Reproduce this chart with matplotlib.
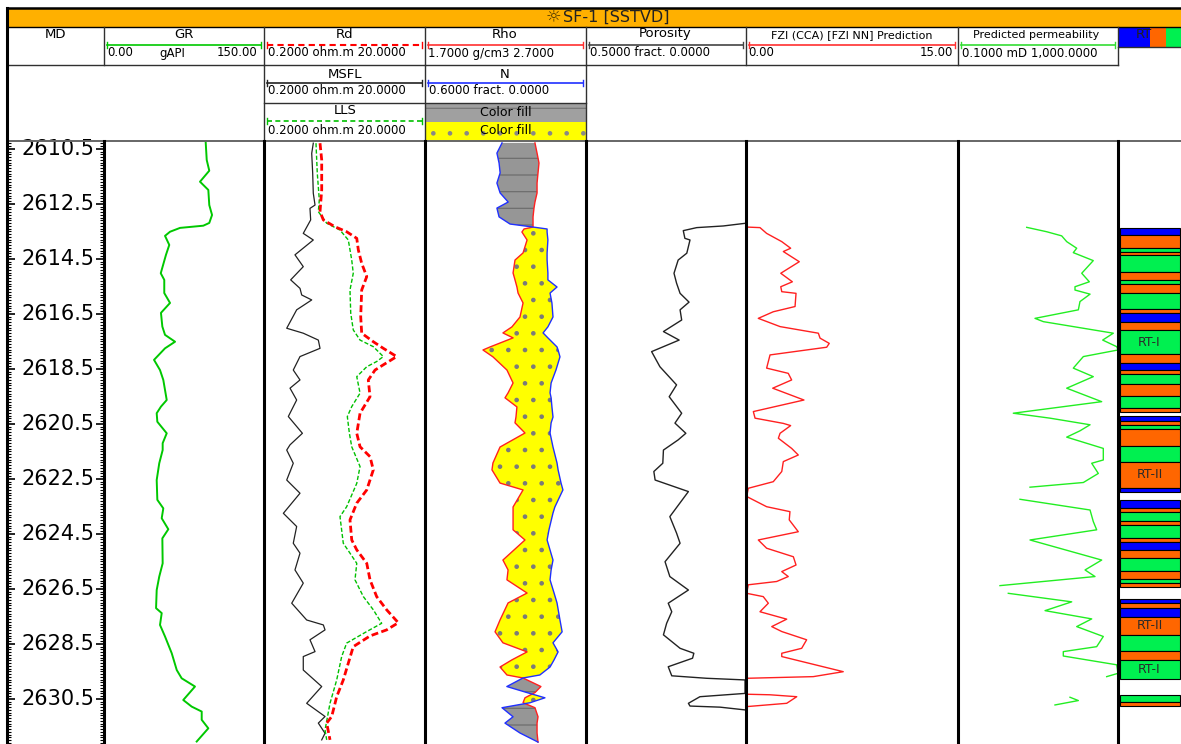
import numpy as np
import matplotlib
matplotlib.use('Agg')
import matplotlib.pyplot as plt
from matplotlib.patches import Rectangle
from matplotlib.ticker import FixedLocator, MultipleLocator

plt.rcParams['font.family'] = ['DejaVu Sans']
plt.rcParams['hatch.linewidth'] = 0.9

W, H = 1181, 744
TOP_DEPTH, BASE_DEPTH = 2610.21, 2632.14

depth_labels = [2610.5, 2612.5, 2614.5, 2616.5, 2618.5, 2620.5,
                2622.5, 2624.5, 2626.5, 2628.5, 2630.5]

# gamma ray (gAPI)
gr_depth = [2610.23, 2610.90, 2611.29, 2611.69, 2611.99, 2612.54, 2612.90, 2613.19, 2613.29, 2613.37,
            2613.51, 2613.66, 2613.99, 2614.35, 2615.02, 2615.26, 2615.74, 2616.10, 2616.46, 2616.96,
            2617.26, 2617.51, 2617.75, 2618.17, 2618.54, 2618.90, 2619.63, 2619.87, 2620.11, 2620.42,
            2620.84, 2621.20, 2621.45, 2621.93, 2622.54, 2623.26, 2623.57, 2623.93, 2624.33, 2624.66,
            2625.57, 2626.05, 2626.54, 2627.20, 2627.38, 2627.81, 2628.23, 2628.84, 2629.45, 2629.75,
            2630.05, 2630.54, 2630.78, 2630.96, 2631.26, 2631.57, 2632.05]
gr_api = [95.3, 96.3, 98.7, 90.0, 97.8, 98.7, 101.3, 98.7, 93.1, 71.3,
          61.9, 57.2, 61.2, 58.1, 53.2, 56.5, 56.5, 61.9, 53.4, 54.7,
          57.2, 66.6, 57.2, 46.9, 52.5, 55.6, 58.8, 53.4, 49.4, 50.0,
          58.8, 55.0, 55.0, 51.8, 49.4, 50.0, 55.6, 54.1, 60.3, 54.7,
          55.0, 51.8, 49.4, 48.8, 54.1, 52.5, 57.2, 63.5, 68.2, 72.8,
          85.3, 74.3, 82.2, 91.6, 91.6, 97.8, 86.9]

# deep resistivity (ohm.m)
rd_depth = [2610.29, 2610.90, 2611.99, 2612.78, 2613.08, 2613.33, 2613.51, 2613.75, 2614.17, 2614.66,
            2615.14, 2615.63, 2616.60, 2617.20, 2617.51, 2617.75, 2618.05, 2618.35, 2618.54, 2618.90,
            2619.51, 2620.11, 2620.84, 2621.33, 2621.69, 2622.17, 2622.90, 2623.38, 2623.99, 2624.72,
            2625.08, 2625.57, 2626.17, 2626.78, 2627.26, 2627.73, 2627.99, 2628.21, 2628.60, 2629.20,
            2629.81, 2630.42, 2631.14, 2631.38, 2631.99]
rd_ohmm = [0.993, 1.042, 1.042, 0.993, 1.092, 1.524, 2.128, 2.84, 2.97, 3.27,
           3.78, 3.27, 3.18, 3.27, 4.56, 6.07, 8.89, 6.07, 4.79, 3.95,
           4.15, 3.12, 2.84, 3.12, 4.15, 4.56, 3.78, 2.84, 2.34, 2.46,
           2.84, 3.78, 4.15, 5.02, 6.68, 9.31, 6.68, 4.15, 2.57, 2.23,
           1.932, 1.600, 1.387, 1.202, 1.321]

# shallow laterolog (ohm.m)
lls_depth = [2610.29, 2611.38, 2612.35, 2612.78, 2613.20, 2613.45, 2613.81, 2614.54, 2615.02, 2615.63,
             2616.47, 2617.08, 2617.45, 2617.69, 2618.05, 2618.23, 2618.42, 2618.78, 2619.38, 2619.87,
             2620.23, 2620.84, 2621.33, 2622.05, 2622.66, 2623.51, 2623.87, 2624.84, 2625.20, 2625.57,
             2626.17, 2626.78, 2627.26, 2627.75, 2628.05, 2628.47, 2628.96, 2629.81, 2630.66, 2631.63,
             2631.99]
lls_ohmm = [0.885, 0.918, 0.973, 0.946, 1.202, 1.758, 2.23, 2.46, 2.57, 2.34,
            2.39, 2.57, 3.12, 4.56, 6.07, 5.02, 3.78, 2.84, 3.12, 2.46,
            2.168, 2.30, 2.46, 3.12, 2.84, 2.128, 1.758, 1.932, 2.34, 2.84,
            2.70, 3.43, 4.56, 5.79, 3.78, 2.128, 1.845, 1.600, 1.321, 1.146,
            1.202]

# micro spherically focused log (ohm.m)
msfl_depth = [2610.29, 2610.66, 2611.38, 2612.11, 2612.54, 2612.66, 2613.08, 2613.57, 2613.81, 2614.35,
              2614.78, 2615.26, 2615.57, 2615.81, 2615.99, 2616.35, 2617.02, 2617.20, 2617.45, 2617.75,
              2618.05, 2618.54, 2618.90, 2619.20, 2619.63, 2620.23, 2620.84, 2621.26, 2621.45, 2621.93,
              2622.54, 2623.02, 2623.75, 2624.23, 2624.84, 2625.20, 2625.81, 2626.29, 2627.02, 2627.63,
              2627.81, 2627.99, 2628.35, 2628.78, 2628.96, 2629.45, 2630.05, 2630.66, 2631.14, 2631.38,
              2631.75, 2631.99]
msfl_ohmm = [0.819, 0.783, 0.805, 0.819, 0.861, 0.745, 0.760, 0.615, 0.819, 0.485,
             0.615, 0.429, 0.560, 0.588, 0.783, 0.509, 0.383, 0.615, 0.946, 0.993,
             0.560, 0.462, 0.560, 0.421, 0.509, 0.401, 0.600, 0.421, 0.383, 0.462,
             0.383, 0.560, 0.348, 0.509, 0.462, 0.560, 0.485, 0.615, 0.442, 0.678,
             1.092, 1.146, 0.745, 0.861, 0.615, 0.615, 1.042, 0.678, 1.146, 0.946,
             1.146, 1.042]

# bulk density (g/cm3) and neutron porosity (fract.) on a shared depth list
rho_depth = [2610.28, 2610.65, 2611.01, 2611.37, 2611.74, 2612.10, 2612.43, 2612.65, 2612.97, 2613.23,
             2613.34, 2613.41, 2613.52, 2613.81, 2614.28, 2614.54, 2615.01, 2615.26, 2615.52, 2615.74,
             2616.10, 2616.61, 2616.97, 2617.19, 2617.37, 2617.70, 2617.81, 2618.06, 2618.54, 2619.01,
             2619.37, 2619.55, 2619.88, 2620.25, 2620.46, 2620.83, 2621.34, 2621.92, 2622.17, 2622.65,
             2622.90, 2623.52, 2623.74, 2624.35, 2624.72, 2625.45, 2625.81, 2626.17, 2626.65, 2627.01,
             2627.63, 2628.06, 2628.46, 2628.79, 2629.08, 2629.34, 2629.63, 2629.74, 2630.05, 2630.27,
             2630.46, 2630.64, 2630.82, 2631.15, 2631.38, 2631.74, 2632.07]
rho_gcc = [2.383, 2.396, 2.408, 2.402, 2.396, 2.396, 2.383, 2.377, 2.371, 2.371,
           2.371, 2.315, 2.302, 2.334, 2.309, 2.259, 2.247, 2.259, 2.271, 2.278,
           2.309, 2.290, 2.240, 2.184, 2.247, 2.104, 2.060, 2.122, 2.209, 2.247,
           2.216, 2.197, 2.271, 2.265, 2.259, 2.321, 2.166, 2.122, 2.116, 2.166,
           2.309, 2.247, 2.247, 2.247, 2.321, 2.184, 2.216, 2.209, 2.334, 2.216,
           2.166, 2.135, 2.184, 2.334, 2.240, 2.166, 2.209, 2.309, 2.420, 2.383,
           2.321, 2.309, 2.383, 2.402, 2.396, 2.396, 2.402]
nphi = [0.313, 0.332, 0.324, 0.320, 0.332, 0.320, 0.290, 0.332, 0.324, 0.283,
        0.197, 0.145, 0.145, 0.142, 0.145, 0.145, 0.142, 0.142, 0.108, 0.134,
        0.127, 0.123, 0.142, 0.160, 0.142, 0.108, 0.104, 0.097, 0.112, 0.130,
        0.134, 0.130, 0.127, 0.123, 0.130, 0.134, 0.123, 0.108, 0.104, 0.093,
        0.086, 0.116, 0.123, 0.138, 0.145, 0.123, 0.130, 0.134, 0.119, 0.108,
        0.097, 0.089, 0.123, 0.104, 0.119, 0.134, 0.172, 0.235, 0.295, 0.220,
        0.153, 0.209, 0.313, 0.272, 0.302, 0.246, 0.179]

# effective porosity (fract.)
phi_depth = [2613.20, 2613.30, 2613.36, 2613.47, 2613.75, 2613.81, 2614.29, 2614.54, 2615.02, 2615.38,
             2615.75, 2616.07, 2616.35, 2616.72, 2617.14, 2617.45, 2617.87, 2618.42, 2619.08, 2619.51,
             2620.11, 2620.47, 2620.84, 2621.08, 2621.45, 2621.93, 2622.23, 2622.54, 2622.96, 2623.87,
             2624.47, 2624.84, 2625.51, 2626.05, 2626.54, 2627.02, 2627.33, 2627.75, 2628.17, 2628.66,
             2628.84, 2629.02, 2629.33, 2629.66, 2629.75, 2629.81, 2630.30, 2630.42, 2630.66, 2630.76,
             2630.80, 2630.90]
phi_frac = [0.0, 0.071, 0.154, 0.196, 0.191, 0.175, 0.185, 0.212, 0.225, 0.217,
            0.206, 0.178, 0.206, 0.201, 0.258, 0.209, 0.295, 0.269, 0.217, 0.240,
            0.201, 0.222, 0.188, 0.212, 0.258, 0.260, 0.288, 0.284, 0.180, 0.238,
            0.217, 0.206, 0.253, 0.238, 0.180, 0.243, 0.232, 0.248, 0.258, 0.206,
            0.163, 0.167, 0.243, 0.232, 0.123, 0.003, 0.003, 0.144, 0.180, 0.175,
            0.081, 0.003]

# flow zone indicator
fzi_depth = [2613.34, 2613.36, 2613.57, 2613.87, 2614.11, 2614.23, 2614.60, 2615.02, 2615.33, 2615.51,
             2615.69, 2615.75, 2616.23, 2616.42, 2616.66, 2616.96, 2617.20, 2617.38, 2617.57, 2617.71,
             2617.99, 2618.47, 2618.66, 2618.90, 2619.20, 2619.63, 2620.05, 2620.29, 2620.48, 2620.56,
             2620.84, 2621.02, 2621.39, 2621.63, 2621.87, 2622.23, 2622.60, 2622.84, 2623.14, 2623.51,
             2623.69, 2623.99, 2624.42, 2624.72, 2625.02, 2625.33, 2625.63, 2625.87, 2626.05, 2626.23,
             2626.35, 2626.66, 2626.78, 2627.02, 2627.33, 2627.60, 2627.87, 2628.05, 2628.35, 2628.66,
             2628.84, 2628.96, 2629.51, 2629.69, 2629.75, 2630.33, 2630.35, 2630.42, 2630.66, 2630.78]
fzi_val = [0.05, 0.99, 1.46, 2.53, 3.16, 2.64, 3.77, 2.46, 3.28, 2.46,
           2.53, 3.54, 3.47, 1.93, 0.87, 2.41, 5.12, 5.24, 5.89, 5.71,
           1.70, 1.46, 2.99, 3.23, 1.89, 4.10, 0.52, 0.64, 2.64, 3.16,
           2.41, 2.29, 3.23, 3.70, 2.64, 2.53, 1.93, 0.16, 0.05, 1.46,
           3.11, 3.06, 3.70, 0.87, 1.46, 3.35, 3.54, 2.53, 2.99, 2.17,
           0.16, 0.05, 1.22, 1.58, 0.99, 2.88, 1.82, 2.53, 4.29, 3.94,
           2.53, 2.53, 6.88, 4.76, 0.05, 0.05, 1.70, 3.59, 2.88, 0.05]

# predicted permeability (mD), nan where undefined
nan = np.nan
perm_depth = [2613.35, 2613.51, 2613.66, 2613.87, 2614.11, 2614.27, 2614.56, 2615.02, 2615.33, 2615.51,
              2615.63, 2615.78, 2616.05, 2616.35, 2616.66, 2616.78, 2617.20, 2617.45, 2617.69, 2617.81,
              2618.05, 2618.47, 2618.78, 2619.20, 2619.69, 2620.11, 2620.29, 2620.53, 2620.75, 2620.98,
              2621.39, 2621.81, 2621.93, 2622.30, 2622.63, 2622.80, 2623.00, 2623.24, 2623.63, 2624.05,
              2624.35, 2624.72, 2625.45, 2625.81, 2626.05, 2626.38, 2626.50, 2626.66, 2626.97, 2627.29,
              2627.59, 2627.87, 2628.23, 2628.60, 2628.78, 2628.94, 2629.26, 2629.57, 2629.69, 2630.00,
              2630.44, 2630.56, 2630.72]
perm_md = [5.22, 16.5, 39.1, 52.2, 92.8, 76.3, 241, 124, 192, 84.1,
           84.1, 200, 112, 102, 8.41, 13.6, 763, 414, 928, 1000,
           136, 76.3, 241, 52.2, 391, 2.41, 20.0, 200, 112, 52.2,
           429, 429, 220, 322, 136, 6.31, nan, 3.55, 200, 241,
           293, 6.31, 391, 150, 266, 1.12, nan, 1.81, 69.6, 15.0,
           220, 92.8, 429, 293, 42.9, 42.9, 928, 1000, 522, nan,
           63.1, 102, 26.6]

# rock type intervals: boundaries and the class of each interval
rt_bounds = [2613.36, 2613.63, 2614.11, 2614.23, 2614.37, 2614.97, 2615.27, 2615.41, 2615.74, 2616.31,
             2616.47, 2616.78, 2617.07, 2617.97, 2618.27, 2618.55, 2618.70, 2619.05, 2619.49, 2619.91,
             2620.05, 2620.22, 2620.38, 2620.53, 2620.70, 2621.30, 2621.88, 2622.82, 2622.97, 2623.26,
             2623.56, 2623.70, 2624.04, 2624.18, 2624.63, 2624.79, 2625.08, 2625.36, 2625.85, 2626.15,
             2626.28, 2626.44, 2626.86, 2627.02, 2627.21, 2627.52, 2628.17, 2628.75, 2629.08, 2629.79,
             2630.37, 2630.63, 2630.76]
rt_class = ['RT-III', 'RT-II', 'RT-I', 'RT-II', 'RT-I', 'RT-II', 'RT-I', 'RT-II', 'RT-I', 'RT-II',
            'RT-III', 'RT-II', 'RT-I', 'RT-II', 'RT-III', 'RT-II', 'RT-I', 'RT-II', 'RT-I', 'RT-II',
            None, 'RT-III', 'RT-II', 'RT-I', 'RT-II', 'RT-I', 'RT-II', 'RT-III', None, 'RT-III',
            'RT-II', 'RT-I', 'RT-II', 'RT-I', 'RT-II', 'RT-III', 'RT-II', 'RT-I', 'RT-II', 'RT-I',
            'RT-II', None, 'RT-III', 'RT-II', 'RT-III', 'RT-II', 'RT-I', 'RT-II', 'RT-I', None,
            'RT-I', 'RT-II']
rt_named = [12, 26, 45, 48]

rt_colors = {'RT-I': '#00F050', 'RT-II': '#FF6600', 'RT-III': '#0000FF'}

fig = plt.figure(figsize=(W / 100, H / 100), dpi=100)


def add_track(x0, x1, log=False):
    ax = fig.add_axes([x0 / W, 0, (x1 - x0) / W, (H - 141) / H])
    if log:
        ax.set_xscale('log')
    ax.set_ylim(BASE_DEPTH, TOP_DEPTH)
    ax.patch.set_visible(False)
    for sp in ax.spines.values():
        sp.set_visible(False)
    ax.tick_params(which='both', left=False, right=False, top=False, bottom=False,
                   labelleft=False, labelbottom=False, labeltop=False)
    return ax


# depth track
md = add_track(7, 104)
md.set_xlim(0, 1)
md.yaxis.set_major_locator(FixedLocator(depth_labels))
md.yaxis.set_minor_locator(MultipleLocator(0.1))
md.tick_params(axis='y', which='both', left=True, right=True, direction='in', color='black')
md.tick_params(axis='y', which='major', length=6, width=1.2)
md.tick_params(axis='y', which='minor', length=3.2, width=0.8)
for d in depth_labels:
    md.text(0.905, d, f'{d:.1f}', ha='right', va='center', fontsize=15,
            transform=md.get_yaxis_transform())

# GR
gr = add_track(104, 264)
gr.set_xlim(0, 150)
gr.plot(gr_api, gr_depth, color='#00C800', lw=1.4)

# resistivities
rd = add_track(264, 425, log=True)
rd.set_xlim(0.2, 20)
rd.plot(msfl_ohmm, msfl_depth, color='#222222', lw=0.9)
rd.plot(lls_ohmm, lls_depth, color='#00C000', lw=1.0, ls=(0, (3, 1.5)))
rd.plot(rd_ohmm, rd_depth, color='#FF0000', lw=2.0, ls=(0, (2.5, 1.2)))

# density / neutron with crossover fills
rho = add_track(425, 586)
rho.set_xlim(1.7, 2.7)
n_ax = rho.twiny()
n_ax.set_xlim(0.6, 0.0)
n_ax.patch.set_visible(False)
for sp in n_ax.spines.values():
    sp.set_visible(False)
n_ax.tick_params(which='both', top=False, bottom=False, left=False, right=False,
                 labeltop=False, labelbottom=False, labelleft=False)

rd_arr = np.array(rho_gcc)
dep_arr = np.array(rho_depth)
n_on_rho = 2.7 - np.array(nphi) / 0.6   # neutron position on the density scale
rho.fill_betweenx(dep_arr, n_on_rho, rd_arr, where=n_on_rho <= rd_arr, interpolate=True,
                  facecolor='#969696', edgecolor='#6e6e6e', hatch='-', linewidth=0)
rho.fill_betweenx(dep_arr, rd_arr, n_on_rho, where=rd_arr <= n_on_rho, interpolate=True,
                  facecolor='#FFFF00', edgecolor='#7a7a7a', hatch='.', linewidth=0)
rho.plot(rho_gcc, rho_depth, color='#FF2020', lw=1.0)
n_ax.plot(nphi, rho_depth, color='#2030FF', lw=1.0)

# porosity
por = add_track(586, 746)
por.set_xlim(0.5, 0.0)
por.plot(phi_frac, phi_depth, color='#222222', lw=1.0)

# FZI
fzi = add_track(746, 958)
fzi.set_xlim(0, 15)
fzi.plot(fzi_val, fzi_depth, color='#FF2020', lw=1.0)

# permeability
perm = add_track(958, 1118, log=True)
perm.set_xlim(0.1, 1000)
perm.plot(perm_md, perm_depth, color='#22EE22', lw=1.0)

# rock type column
rt = add_track(1118, W)
rt.set_xlim(0, 1)
tops = np.array(rt_bounds[:-1])
thick = np.diff(rt_bounds)
for i, c in enumerate(rt_class):
    if c is None:
        continue
    rt.barh(tops[i], 0.955, height=thick[i], left=0.03, align='edge',
            color=rt_colors[c], edgecolor='black', linewidth=0.8)
for i in rt_named:
    rt.text(0.5, tops[i] + thick[i] / 2, rt_class[i], ha='center', va='center',
            fontsize=9, color='#2a2a2a')

# frame and header drawn on top
frame = fig.add_axes([0, 0, 1, 1])
frame.set_xlim(0, W)
frame.set_ylim(H, 0)
frame.axis('off')
frame.patch.set_visible(False)

ink = '#303030'
frame.add_patch(Rectangle((7, 8.5), W - 7, 18.5, fc='#FFB000', ec='none'))
frame.plot([7, W], [8, 8], color='black', lw=1.8)
frame.plot([7, W], [27, 27], color='black', lw=1.0)
frame.text(553, 17.5, '\u263c', fontsize=12.5, ha='center', va='center', color='#4a3500')
frame.text(563, 17.5, 'SF-1 [SSTVD]', fontsize=11.5, ha='left', va='center', color='#222222')

cols = [7, 104, 264, 425, 586, 746, 958, 1118]
for x in cols[1:]:
    frame.plot([x, x], [27, 65], color=ink, lw=1.0)
for x in (264, 425, 586):
    frame.plot([x, x], [65, 140], color=ink, lw=1.0)
frame.plot([7, 1118], [65, 65], color=ink, lw=1.0)
frame.plot([264, 586], [102.5, 102.5], color=ink, lw=1.0)
frame.plot([7, W], [140.5, 140.5], color='#666666', lw=1.4)

# RT legend strip
frame.add_patch(Rectangle((1118, 27.5), 32, 19, fc='#0000FF', ec='none'))
frame.add_patch(Rectangle((1150, 27.5), 15.5, 19, fc='#FF6600', ec='none'))
frame.add_patch(Rectangle((1165.5, 27.5), W - 1165.5, 19, fc='#00F050', ec='none'))
frame.plot([1118, W], [46.7, 46.7], color=ink, lw=1.0)
frame.text(1144, 34, 'RT', fontsize=9.5, ha='center', va='center', color='#202020')

# fill legend boxes
frame.add_patch(Rectangle((425, 102.5), 161, 19.5, fc='#A0A0A0', ec='#777777', lw=0, hatch='-'))
frame.add_patch(Rectangle((425, 122), 161, 18.5, fc='#FFFF00', ec='#888888', lw=0, hatch='.'))
frame.text(505.5, 112, 'Color fill', fontsize=9, ha='center', va='center')
frame.text(505.5, 131, 'Color fill', fontsize=9, ha='center', va='center')

titles = [(55, 34, 'MD', 9.5), (184, 34, 'GR', 9.5), (345, 34, 'Rd', 9.5),
          (505, 34, 'Rho', 9.5), (665, 34, 'Porosity', 9.5),
          (852, 35, 'FZI (CCA) [FZI NN] Prediction', 8), (1036, 35, 'Predicted permeability', 8),
          (345, 74, 'MSFL', 9.5), (505, 74, 'N', 9.5), (345, 111, 'LLS', 9.5)]
for x, y, s, fs in titles:
    frame.text(x, y, s, fontsize=fs, ha='center', va='center')


def scale_bar(x0, x1, y, color, ls='-', lw=1.2):
    frame.plot([x0 + 3, x1 - 3], [y, y], color=color, ls=ls, lw=lw)
    for xe in (x0 + 3, x1 - 3):
        frame.plot([xe, xe], [y - 3, y + 3], color=color, lw=1.0)


scale_bar(104, 264, 45, '#00C800')
scale_bar(264, 425, 45, '#FF0000', ls=(0, (3, 2)), lw=1.5)
scale_bar(425, 586, 45, '#FF3030')
scale_bar(586, 746, 45, '#444444')
scale_bar(746, 958, 45, '#FF3030')
scale_bar(958, 1118, 45, '#33DD33')
scale_bar(264, 425, 83, '#222222')
scale_bar(425, 586, 83, '#2030FF')
scale_bar(264, 425, 121, '#00C000', ls=(0, (3, 2)))

scale_texts = [(107, 53, '0.00', 'left'), (172, 53, 'gAPI', 'center'), (257, 53, '150.00', 'right'),
               (268, 53, '0.2000 ohm.m 20.0000', 'left'), (428, 53, '1.7000 g/cm3 2.7000', 'left'),
               (590, 53, '0.5000 fract. 0.0000', 'left'), (748, 53, '0.00', 'left'),
               (953, 53, '15.00', 'right'), (962, 53, '0.1000 mD 1,000.0000', 'left'),
               (268, 91, '0.2000 ohm.m 20.0000', 'left'), (429, 91, '0.6000 fract. 0.0000', 'left'),
               (268, 130, '0.2000 ohm.m 20.0000', 'left')]
for x, y, s, ha in scale_texts:
    frame.text(x, y, s, fontsize=8.5, ha=ha, va='center')

# track separators
frame.plot([7, 7], [8, H], color='black', lw=2.2)
for x in cols[1:]:
    frame.plot([x, x], [141, H], color='black', lw=2.2)

fig.savefig('out.png', dpi=100)
